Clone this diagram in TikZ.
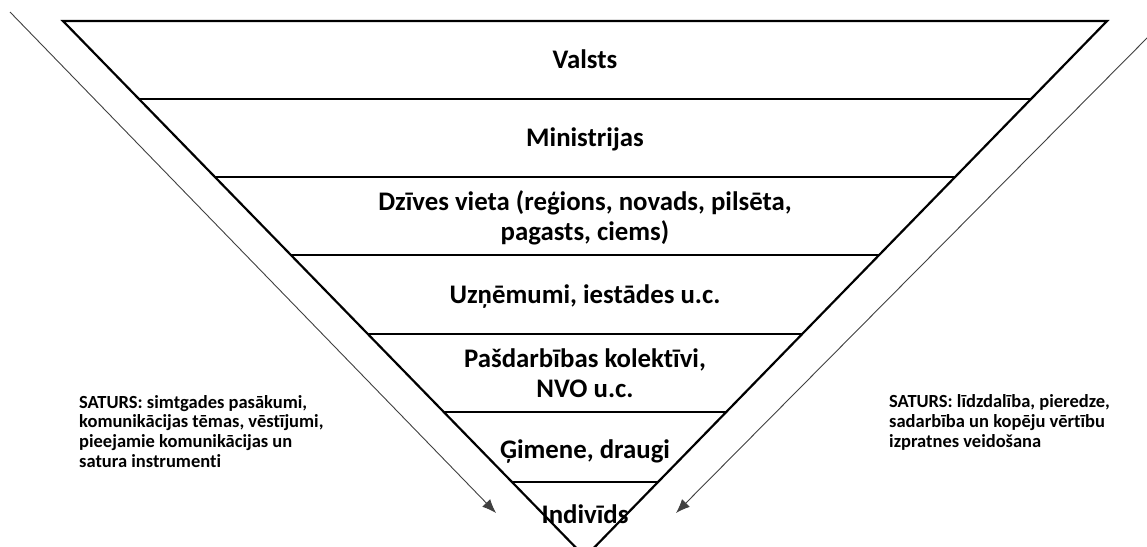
\documentclass[tikz,border=0pt]{standalone}
\usepackage{fontspec}
\setmainfont{Carlito}[Ligatures=NoCommon]
\usetikzlibrary{arrows.meta,calc}
\begin{document}
\begin{tikzpicture}[x=1pt,y=-1pt,
  tri/.style={line width=2.2pt, line join=miter},
  sep/.style={line width=2.2pt},
  guide/.style={line width=0.9pt, black!75, -{Latex[length=14pt,width=11pt]}},
  level/.style={font=\bfseries\fontsize{26.8}{29.5}\selectfont, align=center, inner sep=0pt, anchor=base},
  note/.style={font=\bfseries\fontsize{18.5}{19.6}\selectfont, align=left, inner sep=0pt, anchor=base west}]
\useasboundingbox (0,0) rectangle (1147,546);
\clip (0,0) rectangle (1147,546);
\coordinate (TL) at (63,21);
\coordinate (TR) at (1107,21);
\coordinate (A) at (585,557);
\draw[tri] (A) -- (TL) -- (TR) -- cycle;
\foreach \t in {0.1455,0.291,0.4366,0.584,0.7295,0.860}{
  \draw[sep] ($(TL)!\t!(A)$) -- ($(TR)!\t!(A)$);
}
% anchor=base of a multi-line node is the baseline of its last line
\node[level] (valsts) at (585,68) {Valsts};
\node[level] (min) at (585,146) {Ministrijas};
\node[level] (dziv) at (585,240) {Dzīves vieta (reģions, novads, pilsēta,\\pagasts, ciems)};
\node[level] (uzn) at (585,303) {Uzņēmumi, iestādes u.c.};
\node[level] (pasd) at (585,397) {Pašdarbības kolektīvi,\\NVO u.c.};
\node[level] (gim) at (585,458) {Ģimene, draugi};
\node[level] (ind) at (585,523) {Indivīds};
\node[note] (lnote) at (79,467) {SATURS: simtgades pasākumi,\\komunikācijas tēmas, vēstījumi,\\pieejamie komunikācijas un\\satura instrumenti};
\node[note] (rnote) at (889,447) {SATURS: līdzdalība, pieredze,\\sadarbība un kopēju vērtību\\izpratnes veidošana};
\coordinate (ls) at (10,12);
\coordinate (le) at (496,513);
\coordinate (rs) at (1150,35);
\coordinate (re) at (676,513);
\draw[guide] (ls) -- (le);
\draw[guide] (rs) -- (re);
\end{tikzpicture}
\end{document}
